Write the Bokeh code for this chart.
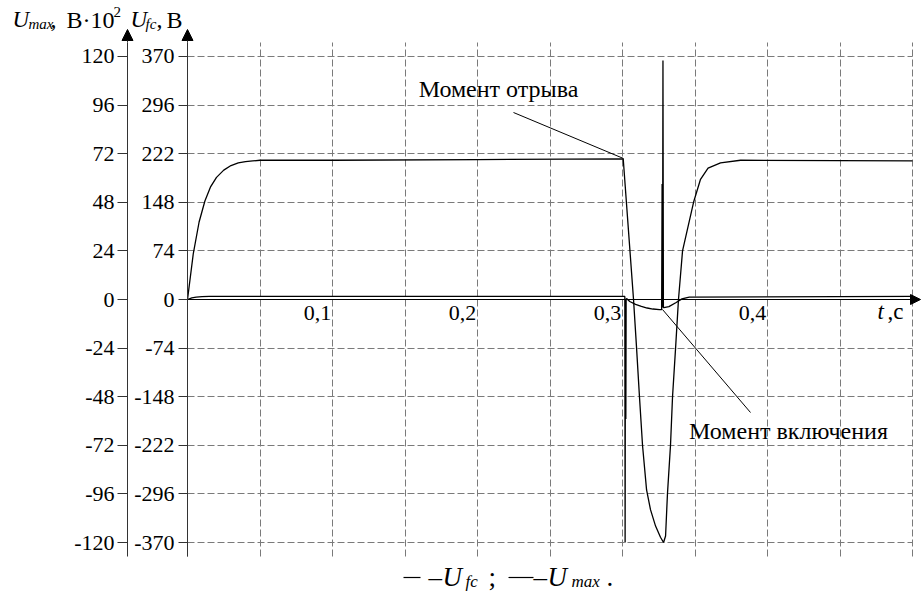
from bokeh.plotting import figure
from bokeh.models import Range1d, LinearAxis, FixedTicker, Label, Arrow, NormalHead
from bokeh.embed import file_html
from bokeh.resources import INLINE

# ---------------- data ----------------
# U_fc, V  (inner left axis)
t_ufc = [0, 0.004, 0.008, 0.012, 0.016, 0.02, 0.025, 0.03, 0.035, 0.04, 0.045, 0.05,
         0.1, 0.2, 0.3005, 0.3076, 0.3097, 0.3117, 0.3138, 0.3166, 0.3193, 0.3228,
         0.3262, 0.3283, 0.3297, 0.331, 0.3331, 0.3345, 0.3366, 0.3386, 0.3414,
         0.349, 0.3538, 0.3590, 0.3676, 0.3814, 0.5]
ufc = [0, 70, 118, 150, 172, 186, 197, 204, 208, 210, 211, 212,
       212, 213, 214, 0, -74, -148, -222, -290, -320, -345,
       -362, -370, -360, -296, -222, -148, -74, 0, 74,
       148, 183, 200, 208, 212, 211]

# U_max, V*10^2  (outer left axis)
t_umax = [0, 0.003, 0.006, 0.01, 0.015, 0.3, 0.3016, 0.3018, 0.3020, 0.3023, 0.3025,
          0.3028, 0.305, 0.309, 0.313, 0.317, 0.321, 0.3255, 0.3270, 0.3273, 0.3276,
          0.3279, 0.3282, 0.3285, 0.332, 0.337, 0.341, 0.346, 0.5]
umax = [0, 0.8, 1.2, 1.4, 1.5, 1.5, 1.5, -120, 0, -59, 0,
        0.5, -1.0, -2.4, -3.4, -4.2, -4.7, -5.0, -5.0, 57, -4,
        118, -4, -4, -3.5, -1.5, 0.3, 1.2, 1.5]

ufc_ticks = [-370, -296, -222, -148, -74, 0, 74, 148, 222, 296, 370]
umax_ticks = [-120, -96, -72, -48, -24, 0, 24, 48, 72, 96, 120]
t_ticks = [0.1, 0.2, 0.3, 0.4]
t_labels = ["0,1", "0,2", "0,3", "0,4"]
t_grid = [0.0, 0.05, 0.1, 0.15, 0.2, 0.25, 0.3, 0.35, 0.4, 0.45, 0.5]

# ---------------- layout (pixel frame of the drawing) ----------------
W, H = 921, 598
FL, FR, FT, FB = 187, 921, 42, 556
X_END = 0.5062
Y_LIM = 391.3
UM_RATIO = 120 / 370
FONT = "Liberation Serif"
TXT_SHIFT = 9  # label baseline correction in px


def dx(X):
    return (X - FL) / (FR - FL) * X_END


def dy(Y):
    return Y_LIM - (Y - FT) / (FB - FT) * 2 * Y_LIM


p = figure(width=W, height=H,
           x_range=Range1d(dx(0), dx(W)), y_range=Range1d(dy(H), dy(0)),
           output_backend="svg", toolbar_location=None, min_border=0)
p.extra_y_ranges = {"umax": Range1d(dy(H) * UM_RATIO, dy(0) * UM_RATIO)}
p.outline_line_color = None
p.background_fill_color = "white"
p.border_fill_color = "white"


def style_axis(ax, tick_out=9, standoff=4):
    ax.major_tick_out = tick_out
    ax.major_tick_in = 0
    ax.minor_tick_out = 0
    ax.minor_tick_in = 0
    ax.axis_line_color = "#333333"
    ax.major_tick_line_color = "#333333"
    ax.major_label_text_font = FONT
    ax.major_label_text_font_size = "22px"
    ax.major_label_text_color = "black"
    ax.major_label_standoff = standoff


# inner y axis (U_fc) at t = 0
yin = p.yaxis[0]
yin.ticker = FixedTicker(ticks=ufc_ticks)
yin.major_label_overrides = {v: str(v) for v in ufc_ticks}
yin.fixed_location = 0
yin.bounds = (-Y_LIM, Y_LIM)
style_axis(yin)

# outer y axis (U_max)
yout = LinearAxis(y_range_name="umax", ticker=FixedTicker(ticks=umax_ticks))
yout.major_label_overrides = {v: str(v) for v in umax_ticks}
yout.fixed_location = dx(127)
yout.bounds = (-Y_LIM * UM_RATIO, Y_LIM * UM_RATIO)
style_axis(yout, tick_out=10, standoff=3)
p.add_layout(yout, "left")

# x axis through zero
xa = p.xaxis[0]
shifted = [round(v - 0.0103, 4) for v in t_ticks]
xa.ticker = FixedTicker(ticks=shifted)
xa.major_label_overrides = {s: l for s, l in zip(shifted, t_labels)}
xa.fixed_location = 0
xa.bounds = (0, 0.5)
style_axis(xa, tick_out=0, standoff=6)
xa.axis_line_color = "black"
xa.axis_line_width = 1.2

# grids
p.xgrid.ticker = FixedTicker(ticks=t_grid)
p.ygrid.ticker = FixedTicker(ticks=ufc_ticks)
for g in (p.xgrid, p.ygrid):
    g.grid_line_color = "#7a7a7a"
    g.grid_line_dash = "7 3"
    g.grid_line_width = 1
p.ygrid.cross_bounds = (0, 0.5)
p.xgrid.cross_bounds = (-Y_LIM, Y_LIM)

# curves
p.line(t_ufc, ufc, line_color="black", line_width=1.3)
p.line(t_umax, umax, y_range_name="umax", line_color="black", line_width=1.3)

# axis arrows
for X in (FL, 127):
    p.add_layout(Arrow(end=NormalHead(size=11, fill_color="black", line_color="black"),
                       x_start=dx(X), y_start=Y_LIM, x_end=dx(X), y_end=dy(29),
                       line_color="#333333", line_width=1))
p.add_layout(Arrow(end=NormalHead(size=10, fill_color="black", line_color="black"),
                   x_start=0.5, y_start=0, x_end=dx(920), y_end=0,
                   line_color="black", line_width=1.2))


def lab(X, Y, text, size, italic=False, align="left"):
    p.add_layout(Label(x=dx(X), y=dy(Y - TXT_SHIFT), text=text, text_font=FONT,
                       text_font_size=f"{size}px",
                       text_font_style="italic" if italic else "normal",
                       text_align=align, text_baseline="alphabetic", text_color="black"))


# axis titles
lab(12, 28, "U", 23, True)
lab(28, 32, "max", 15, True)
lab(50, 28, ",", 24)
lab(66, 28, "В·10", 24)
lab(113, 20, "2", 15)
lab(130, 28, "U", 23, True)
lab(145, 32, "fc", 15, True)
lab(156, 28, ",", 24)
lab(166, 28, "В", 24)

# t label
lab(877, 320, "t", 23, True)
lab(887, 320, ",c", 23)

# annotations
p.segment(x0=[dx(513), dx(662)], y0=[dy(112), dy(309)],
          x1=[dx(623), dx(750)], y1=[dy(158), dy(412)],
          line_color="black", line_width=1)
lab(498, 97, "Момент отрыва", 24, align="center")
lab(788, 439, "Момент включения", 24, align="center")

# legend
p.add_layout(Arrow(end=None, x_start=dx(403), y_start=dy(577), x_end=dx(420), y_end=dy(577),
                   line_color="black", line_width=1.2))
lab(428, 585, "–", 27)
lab(442, 585, "U", 27, True)
lab(465, 590, "fc", 17, True)
lab(488, 585, ";", 27)
p.add_layout(Arrow(end=None, x_start=dx(508), y_start=dy(577), x_end=dx(533), y_end=dy(577),
                   line_color="black", line_width=1.2))
lab(533, 585, "–", 27)
lab(547, 585, "U", 27, True)
lab(571, 590, "max", 17, True)
lab(606, 585, ".", 27)

open("out.html", "w").write(file_html(p, INLINE))
